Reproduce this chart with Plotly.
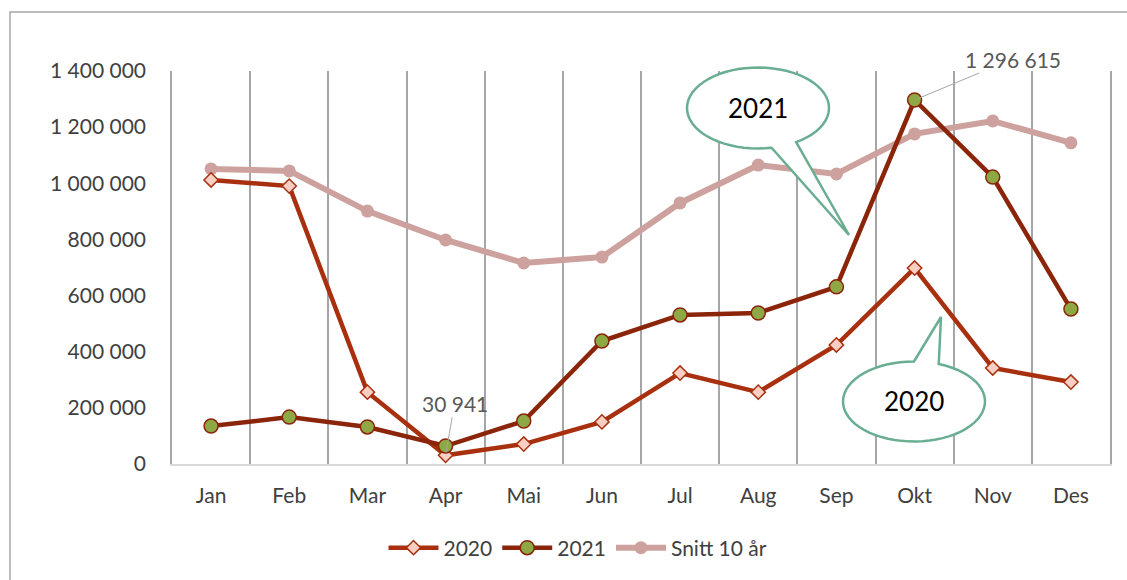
import math
import plotly.graph_objs as go

months = ["Jan", "Feb", "Mar", "Apr", "Mai", "Jun", "Jul", "Aug", "Sep", "Okt", "Nov", "Des"]
y2020 = [1012000, 990000, 256000, 30941, 71000, 150000, 324000, 256000, 424000, 698000, 342000, 292000]
y2021 = [135000, 167000, 132000, 64000, 153000, 438000, 531000, 538000, 631000, 1296615, 1022000, 552000]
snitt = [1051000, 1044000, 901000, 798000, 716000, 737000, 930000, 1065000, 1033000, 1176000, 1222000, 1144000]

FONT = "Lato, 'Open Sans', sans-serif"
W, H = 1127, 580
L, R, T, B = 172, 17, 71, 116
PW, PH = W - L - R, H - T - B


def px(x):
    return (x - L) / PW


def py(y):
    return (T + PH - y) / PH


def callout(cx, cy, rx, ry, a_start, a_end, tip):
    # ellipse outline from a_start to a_end (degrees, screen coords), then to the tip
    pts = []
    n = 60
    for i in range(n + 1):
        a = math.radians(a_start + (a_end - a_start) * i / n)
        pts.append((cx + rx * math.cos(a), cy + ry * math.sin(a)))
    pts.append(tip)
    d = "M %f,%f " % (px(pts[0][0]), py(pts[0][1]))
    d += " ".join("L %f,%f" % (px(x), py(y)) for x, y in pts[1:])
    return d + " Z"


fig = go.Figure()
fig.add_trace(go.Scatter(
    x=months, y=snitt, name="Snitt 10 år", mode="lines+markers", legendrank=3,
    line=dict(color="#CDA29E", width=6),
    marker=dict(symbol="circle", size=13, color="#CDA29E"),
))
fig.add_trace(go.Scatter(
    x=months, y=y2020, name="2020", mode="lines+markers", legendrank=1,
    line=dict(color="#A8300F", width=4.5),
    marker=dict(symbol="diamond", size=11, color="#F9CFC4", line=dict(color="#A8300F", width=1.5)),
))
fig.add_trace(go.Scatter(
    x=months, y=y2021, name="2021", mode="lines+markers", legendrank=2,
    line=dict(color="#8B250A", width=4.5),
    marker=dict(symbol="circle", size=14, color="#8EA845", line=dict(color="#8B250A", width=1.5)),
))

teal = "#6AAE92"
fig.add_shape(type="path", xref="paper", yref="paper",
              path=callout(758, 108, 71, 40.5, 79, 417.5, (849, 235)),
              line=dict(color=teal, width=2.5), fillcolor="white", layer="above")
fig.add_shape(type="path", xref="paper", yref="paper",
              path=callout(914, 401.5, 71, 40, -69.6, 270, (941, 317)),
              line=dict(color=teal, width=2.5), fillcolor="white", layer="above")

# outer frame
fig.add_shape(type="rect", xref="paper", yref="paper",
              x0=px(10), x1=px(1140), y0=py(600), y1=py(12),
              line=dict(color="#A6A6A6", width=1.5))

fig.add_annotation(x=px(758), y=py(108), xref="paper", yref="paper", text="2021",
                   xanchor="center", yanchor="middle", showarrow=False,
                   font=dict(size=26, color="black", family=FONT))
fig.add_annotation(x=px(914), y=py(401), xref="paper", yref="paper", text="2020",
                   xanchor="center", yanchor="middle", showarrow=False,
                   font=dict(size=26, color="black", family=FONT))

fig.add_annotation(x="Okt", y=y2021[9], text="1 296 615", ax=98, ay=-41,
                   showarrow=True, arrowhead=0, arrowwidth=1, arrowcolor="#A6A6A6", standoff=3,
                   font=dict(size=21, color="#595959", family=FONT))
fig.add_annotation(x="Apr", y=y2020[3], text="30 941", ax=9, ay=-52,
                   showarrow=True, arrowhead=0, arrowwidth=1, arrowcolor="#A6A6A6", standoff=3,
                   font=dict(size=21, color="#595959", family=FONT))

fig.update_layout(
    width=W, height=H,
    margin=dict(l=L, r=R, t=T, b=B),
    paper_bgcolor="white", plot_bgcolor="white",
    separators=", ",
    font=dict(family=FONT, size=21, color="#404040"),
    showlegend=True,
    legend=dict(orientation="h", x=px(578), xanchor="center", y=py(548), yanchor="middle",
                font=dict(size=21, color="#404040"), itemwidth=50),
    xaxis=dict(type="category", range=[-0.5, 11.5], tickson="boundaries",
               showgrid=True, gridcolor="#A6A6A6", gridwidth=1.5,
               showline=True, linecolor="#D9D9D9", linewidth=2,
               ticks="", ticklabelstandoff=12),
    yaxis=dict(range=[0, 1400000], dtick=200000, tickformat=",d",
               showgrid=False, zeroline=False,
               showline=True, linecolor="#A6A6A6", linewidth=1.5, mirror=True,
               ticks="", ticklabelstandoff=20),
)

fig.write_html("out.html", config={"displayModeBar": False},
               post_script="document.body.style.margin='0';")
